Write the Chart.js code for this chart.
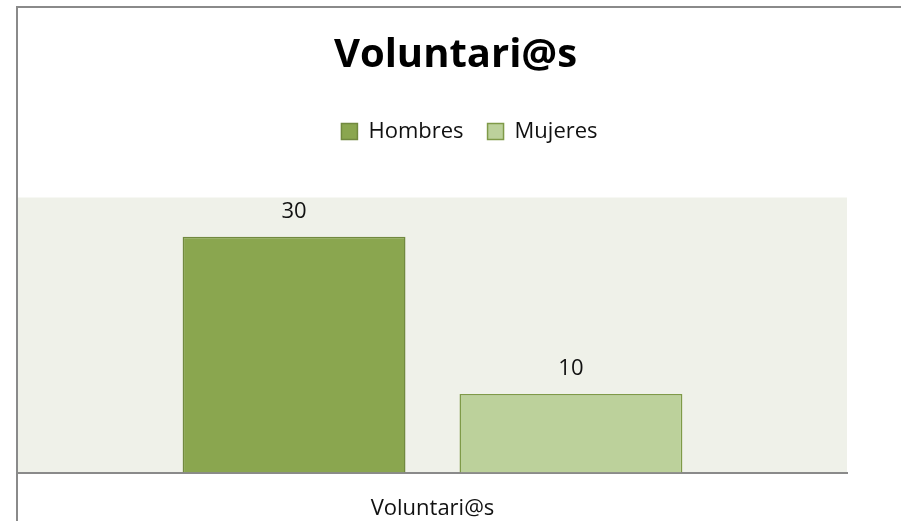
<!DOCTYPE html>
<html>
<head>
<meta charset="utf-8">
<script src="https://cdn.jsdelivr.net/npm/chart.js@4"></script>
<style>
  html, body { margin: 0; padding: 0; background: #ffffff; }
  #wrap { position: relative; width: 901px; height: 521px; }
</style>
</head>
<body>
<div id="wrap"><canvas id="chart" width="901" height="521"></canvas></div>
<script>
// data
const categories = ['Voluntari@s'];
const seriesNames = ['Hombres', 'Mujeres'];
const hombres = [30];
const mujeres = [10];
const yMax = 35;

const FONT = '"Open Sans", Lato, sans-serif';

// plot background + outer frame
const framePlugin = {
    id: 'frame',
    afterLayout(chart) {
        // legend sits a bit right of the title in the original
        chart.legend.left += 14;
        chart.legend.right += 14;
    },
    beforeDraw(chart) {
        const { ctx, chartArea } = chart;
        ctx.save();
        ctx.fillStyle = '#eff1e9';
        ctx.fillRect(chartArea.left, chartArea.top, chartArea.right - chartArea.left, chartArea.bottom - chartArea.top);
        ctx.strokeStyle = '#8a8a8a';
        ctx.lineWidth = 2;
        ctx.beginPath();
        ctx.moveTo(17, chart.height);
        ctx.lineTo(17, 7);
        ctx.lineTo(chart.width, 7);
        ctx.stroke();
        ctx.restore();
    }
};

// value labels above each bar
const valueLabels = {
    id: 'valueLabels',
    afterDatasetsDraw(chart) {
        const { ctx } = chart;
        ctx.save();
        ctx.font = '22px ' + FONT;
        ctx.fillStyle = '#111111';
        ctx.textAlign = 'center';
        ctx.textBaseline = 'middle';
        chart.data.datasets.forEach((ds, i) => {
            chart.getDatasetMeta(i).data.forEach((bar, j) => {
                ctx.fillText(String(ds.data[j]), bar.x, bar.y - 25);
            });
        });
        ctx.restore();
    }
};

new Chart(document.getElementById('chart'), {
    type: 'bar',
    data: {
        labels: categories,
        datasets: [{
            label: seriesNames[0],
            data: hombres,
            backgroundColor: '#8aa64f',
            borderColor: '#71893f',
            borderWidth: 1.5,
            borderSkipped: 'bottom'
        }, {
            label: seriesNames[1],
            data: mujeres,
            backgroundColor: '#bcd19b',
            borderColor: '#7f9a48',
            borderWidth: 1.5,
            borderSkipped: 'bottom'
        }]
    },
    options: {
        responsive: false,
        animation: false,
        events: [],
        categoryPercentage: 0.668,
        barPercentage: 0.805,
        layout: { padding: { left: 10, right: 0, top: 0, bottom: -24 } },
        plugins: {
            title: {
                display: true,
                text: 'Voluntari@s',
                color: '#000000',
                font: { family: FONT, size: 40, weight: 'bold' },
                padding: { top: 32, bottom: 16.5 }
            },
            subtitle: {
                display: true,
                text: '',
                weight: 500,
                font: { size: 10, lineHeight: 1 },
                padding: { top: 0, bottom: 35 }
            },
            legend: {
                display: true,
                position: 'top',
                labels: {
                    color: '#111111',
                    font: { family: FONT, size: 22 },
                    boxWidth: 16,
                    boxHeight: 16,
                    padding: 24
                }
            },
            tooltip: { enabled: false }
        },
        scales: {
            x: {
                grid: { display: false, drawTicks: false },
                border: { display: true, color: '#8a8a8a', width: 2 },
                ticks: {
                    color: '#111111',
                    font: { family: FONT, size: 22 },
                    padding: 23
                }
            },
            y: {
                position: 'left',
                min: 0,
                max: yMax,
                grid: { display: false },
                border: { display: false },
                ticks: { display: false },
                afterFit(scale) { scale.width = 8; }
            },
            yRight: {
                position: 'right',
                grid: { display: false },
                border: { display: false },
                ticks: { display: false },
                afterFit(scale) { scale.width = 54; }
            }
        }
    },
    plugins: [framePlugin, valueLabels]
});
</script>
</body>
</html>
